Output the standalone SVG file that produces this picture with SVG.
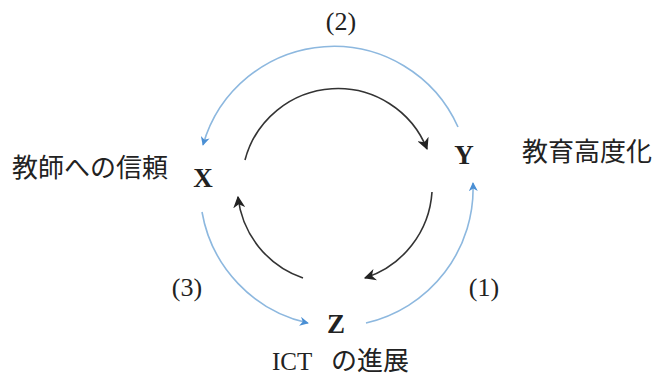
<svg xmlns="http://www.w3.org/2000/svg" width="654" height="376" viewBox="0 0 654 376">
<defs>
<style>
.blue{fill:none;stroke:#8db8df;stroke-width:1.6}
.black{fill:none;stroke:#333;stroke-width:1.6}
.node{font-family:"Liberation Serif",serif;font-weight:bold;font-size:27px;fill:#222;text-anchor:middle}
.lbl{font-family:"Liberation Serif",serif;font-size:26px;fill:#222;text-anchor:middle}
.jp{font-family:"Noto Sans CJK JP",sans-serif;font-size:26px;fill:#222}
.en{font-family:"Liberation Serif",serif;font-size:25px;fill:#222}
</style>
<marker id="ab" viewBox="0 0 10 10" refX="9" refY="5" markerWidth="9" markerHeight="9" markerUnits="userSpaceOnUse" orient="auto">
<path d="M0,0 L10,5 L0,10 L3,5 z" fill="#4a8fd4"/>
</marker>
<marker id="ak" viewBox="0 0 10 10" refX="9" refY="5" markerWidth="12" markerHeight="12" markerUnits="userSpaceOnUse" orient="auto">
<path d="M0,0 L10,5 L0,10 L3,5 z" fill="#222"/>
</marker>
</defs>
<rect width="654" height="376" fill="#fff"/>
<g id="connectors">
<path class="blue" d="M458,127 A136,136 0 0 0 203,145" marker-end="url(#ab)"/>
<path class="blue" d="M202,212 A138,138 0 0 0 308,323" marker-end="url(#ab)"/>
<path class="blue" d="M366,323 A138,138 0 0 0 473,183" marker-end="url(#ab)"/>
<path class="black" d="M245,160 A96,96 0 0 1 427,149" marker-end="url(#ak)"/>
<path class="black" d="M432,192 A97,97 0 0 1 365,278" marker-end="url(#ak)"/>
<path class="black" d="M303,278 A97,97 0 0 1 238,197" marker-end="url(#ak)"/>
</g>
<g id="X"><text class="node" x="203" y="187">X</text><text class="jp" x="12" y="177">教師への信頼</text></g>
<g id="Y"><text class="node" x="464" y="164">Y</text><text class="jp" x="522" y="161">教育高度化</text></g>
<g id="Z"><text class="node" x="336" y="333">Z</text><text class="en" x="272" y="370">ICT</text><text class="jp" x="331" y="370">の進展</text></g>
<g id="labels">
<text class="lbl" x="341" y="30">(2)</text>
<text class="lbl" x="187" y="296">(3)</text>
<text class="lbl" x="484" y="296">(1)</text>
</g>
</svg>
